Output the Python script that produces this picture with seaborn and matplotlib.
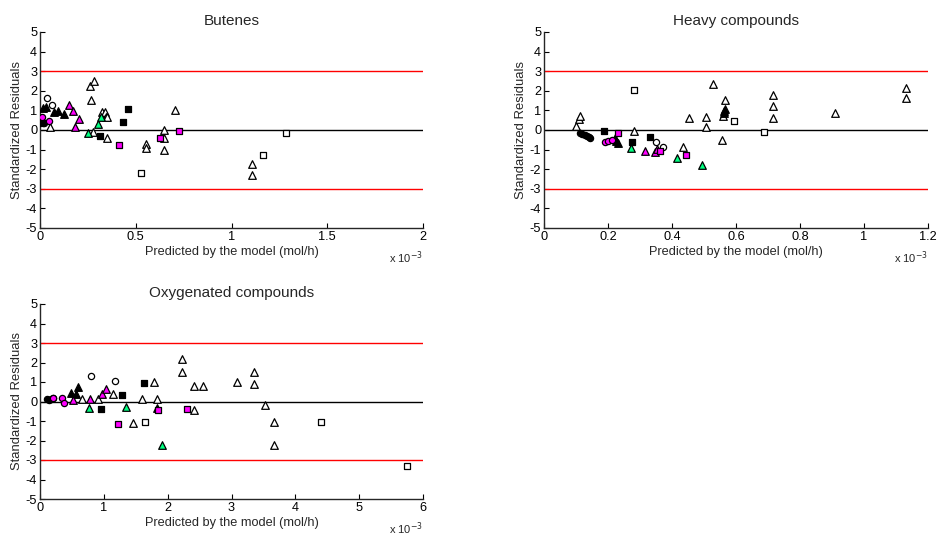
import matplotlib
matplotlib.use("Agg")
import matplotlib.pyplot as plt
import seaborn as sns
import pandas as pd
from matplotlib.ticker import FormatStrFormatter

# ---------------- data (x in units of 1e-3 mol/h) ----------------
# Butenes
but_tri_open_x = [0.052, 0.26, 0.264, 0.277, 0.283, 0.322, 0.339, 0.344, 0.35, 0.351,
                  0.551, 0.551, 0.649, 0.649, 0.649, 0.704, 1.108, 1.108]
but_tri_open_y = [0.14, 2.26, 1.53, -0.12, 2.52, 0.94, 0.94, 0.68, 0.65, -0.39,
                  -0.71, -0.94, 0.02, -0.43, -1.02, 1.02, -1.72, -2.3]
but_tri_black_x = [0.014, 0.03, 0.075, 0.092, 0.124]
but_tri_black_y = [1.12, 1.16, 0.94, 0.95, 0.84]
but_tri_mag_x = [0.151, 0.17, 0.203, 0.181]
but_tri_mag_y = [1.28, 0.97, 0.58, 0.14]
but_tri_green_x = [0.249, 0.303, 0.318]
but_tri_green_y = [-0.17, 0.32, 0.66]
but_circ_open_x = [0.038, 0.061]
but_circ_open_y = [1.62, 1.29]
but_circ_black_x = [0.0, 0.008, 0.015, 0.023]
but_circ_black_y = [0.34, 0.39, 0.36, 0.38]
but_circ_mag_x = [0.01, 0.045]
but_circ_mag_y = [0.68, 0.48]
but_sq_black_x = [0.313, 0.431, 0.457]
but_sq_black_y = [-0.32, 0.43, 1.07]
but_sq_mag_x = [0.41, 0.626, 0.725]
but_sq_mag_y = [-0.77, -0.43, -0.07]
but_sq_open_x = [0.527, 1.162, 1.283]
but_sq_open_y = [-2.21, -1.28, -0.17]

# Heavy compounds
hev_tri_open_x = [0.101, 0.11, 0.112, 0.282, 0.433, 0.454, 0.505, 0.505, 0.529, 0.557,
                  0.566, 0.56, 0.715, 0.715, 0.715, 0.91, 1.13, 1.13]
hev_tri_open_y = [0.22, 0.56, 0.70, -0.07, -0.88, 0.6, 0.65, 0.14, 2.33, -0.51,
                  1.51, 0.73, 1.8, 1.21, 0.6, 0.85, 2.14, 1.62]
hev_tri_black_x = [0.562, 0.564, 0.566, 0.222, 0.226, 0.23]
hev_tri_black_y = [0.88, 0.98, 1.05, -0.42, -0.55, -0.66]
hev_tri_mag_x = [0.316, 0.346, 0.352]
hev_tri_mag_y = [-1.05, -1.1, -0.97]
hev_tri_green_x = [0.273, 0.416, 0.494]
hev_tri_green_y = [-0.94, -1.43, -1.79]
hev_circ_open_x = [0.35, 0.371]
hev_circ_open_y = [-0.6, -0.85]
hev_circ_black_x = [0.114, 0.12, 0.127, 0.133, 0.14, 0.145]
hev_circ_black_y = [-0.17, -0.22, -0.28, -0.33, -0.38, -0.42]
hev_circ_mag_x = [0.19, 0.2, 0.212]
hev_circ_mag_y = [-0.6, -0.55, -0.52]
hev_sq_black_x = [0.188, 0.274, 0.331]
hev_sq_black_y = [-0.07, -0.63, -0.34]
hev_sq_mag_x = [0.232, 0.364, 0.443]
hev_sq_mag_y = [-0.17, -1.05, -1.28]
hev_sq_open_x = [0.282, 0.594, 0.688]
hev_sq_open_y = [2.06, 0.44, -0.1]

# Oxygenated compounds
oxy_tri_open_x = [0.66, 0.91, 1.14, 1.45, 1.6, 1.78, 1.84, 2.23, 2.23, 2.42, 2.42, 2.56,
                  3.09, 3.35, 3.35, 3.53, 3.67, 3.67]
oxy_tri_open_y = [0.12, 0.15, 0.36, -1.1, 0.12, 0.99, 0.15, 2.17, 1.5, 0.79, -0.45, 0.79,
                  0.99, 1.52, 0.89, -0.2, -1.06, -2.25]
oxy_tri_black_x = [0.49, 0.57, 0.59, 1.83]
oxy_tri_black_y = [0.43, 0.38, 0.74, -0.33]
oxy_tri_mag_x = [0.51, 0.78, 0.97, 1.04]
oxy_tri_mag_y = [0.1, 0.12, 0.38, 0.65]
oxy_tri_green_x = [0.77, 1.34, 1.91]
oxy_tri_green_y = [-0.34, -0.29, -2.25]
oxy_circ_open_x = [0.80, 1.18]
oxy_circ_open_y = [1.31, 1.06]
oxy_circ_black_x = [0.115, 0.146, 0.17, 0.2]
oxy_circ_black_y = [0.12, 0.1, 0.13, 0.16]
oxy_circ_mag_x = [0.21, 0.35, 0.37]
oxy_circ_mag_y = [0.18, 0.19, -0.07]
oxy_sq_black_x = [0.95, 1.29, 1.63]
oxy_sq_black_y = [-0.38, 0.33, 0.97]
oxy_sq_mag_x = [1.22, 1.85, 2.31]
oxy_sq_mag_y = [-1.13, -0.43, -0.36]
oxy_sq_open_x = [1.65, 4.4, 5.75]
oxy_sq_open_y = [-1.04, -1.04, -3.31]

titles = ["Butenes", "Heavy compounds", "Oxygenated compounds"]
xlabel = "Predicted by the model (mol/h)"
ylabel = "Standardized Residuals"
y_ticks = [-5, -4, -3, -2, -1, 0, 1, 2, 3, 4, 5]
x_ticks_but = [0, 0.5, 1, 1.5, 2]
x_ticks_hev = [0, 0.2, 0.4, 0.6, 0.8, 1, 1.2]
x_ticks_oxy = [0, 1, 2, 3, 4, 5, 6]

# ---------------- style ----------------
sns.set_theme(style="ticks")
plt.rcParams['font.family'] = ['Liberation Sans', 'DejaVu Sans']
plt.rcParams['axes.linewidth'] = 1.0
plt.rcParams['axes.unicode_minus'] = False

GREEN = "#00ff80"
MAG = "#ff00ff"
styles = {
    "tri_open":   dict(marker="^", facecolor="white", s=30),
    "tri_black":  dict(marker="^", facecolor="black", s=30),
    "tri_mag":    dict(marker="^", facecolor=MAG, s=30),
    "tri_green":  dict(marker="^", facecolor=GREEN, s=30),
    "circ_open":  dict(marker="o", facecolor="white", s=20),
    "circ_black": dict(marker="o", facecolor="black", s=20),
    "circ_mag":   dict(marker="o", facecolor=MAG, s=20),
    "sq_black":   dict(marker="s", facecolor="black", s=20),
    "sq_mag":     dict(marker="s", facecolor=MAG, s=20),
    "sq_open":    dict(marker="s", facecolor="white", s=20),
}


def build(prefix):
    rows = []
    g = globals()
    for kind in styles:
        xs = g[f"{prefix}_{kind}_x"]
        ys = g[f"{prefix}_{kind}_y"]
        for x, y in zip(xs, ys):
            rows.append({"x": x, "y": y, "kind": kind})
    return pd.DataFrame(rows)


fig = plt.figure(figsize=(9.38, 5.35), dpi=100)
W, H = 938, 535
positions = [
    (40, 228, 383, 196),
    (544, 228, 384, 196),
    (40, 499, 383, 195),
]
panels = [("but", x_ticks_but, 2), ("hev", x_ticks_hev, 1.2), ("oxy", x_ticks_oxy, 6)]

for (prefix, xt, xmax), (l, b, w, h), title in zip(panels, positions, titles):
    ax = fig.add_axes([l / W, 1 - b / H, w / W, h / H])
    df = build(prefix)
    ax.axhline(3, color="red", lw=1.0, zorder=1)
    ax.axhline(-3, color="red", lw=1.0, zorder=1)
    ax.axhline(0, color="black", lw=1.0, zorder=1)
    for kind, st in styles.items():
        sub = df[df["kind"] == kind]
        if len(sub) == 0:
            continue
        sns.scatterplot(data=sub, x="x", y="y", ax=ax, marker=st["marker"],
                        color=st["facecolor"], edgecolor="black",
                        linewidth=0.9, s=st["s"], zorder=3, legend=False)
    ax.set_xlim(0, xmax)
    ax.set_ylim(-5, 5)
    ax.set_xticks(xt)
    ax.set_yticks(y_ticks)
    ax.xaxis.set_major_formatter(FormatStrFormatter('%g'))
    ax.tick_params(direction="in", length=3.5, width=0.8, labelsize=9.2, pad=2,
                   colors="black")
    sns.despine(ax=ax)
    ax.set_title(title, fontsize=11, pad=5)
    ax.set_xlabel(xlabel, fontsize=9.2, labelpad=2.5)
    ax.set_ylabel(ylabel, fontsize=9.4, labelpad=2)
    ax.text(1.0, -0.15, r"x 10$^{-3}$", transform=ax.transAxes, ha="right",
            va="center", fontsize=8)

fig.savefig("out.png", dpi=100)
